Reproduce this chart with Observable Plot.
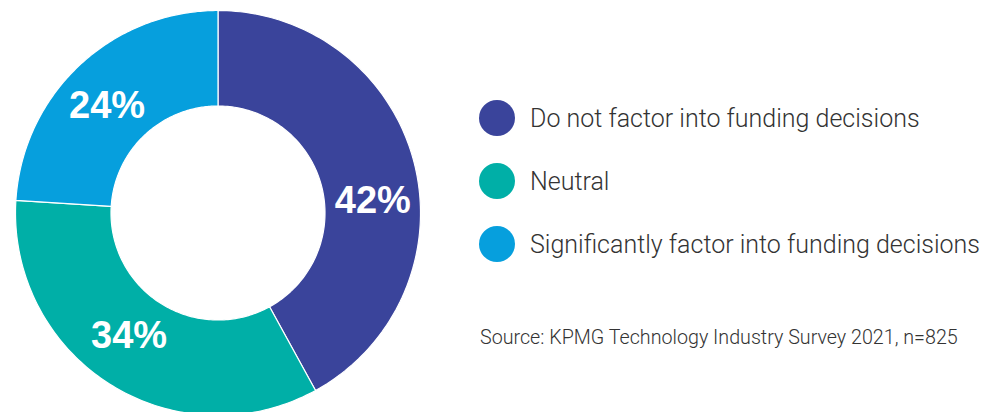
<!DOCTYPE html>
<html>
<head>
<meta charset="utf-8">
<script src="https://cdn.jsdelivr.net/npm/d3@7"></script>
<script src="https://cdn.jsdelivr.net/npm/@observablehq/plot@0.6"></script>
<style>
  html, body { margin: 0; padding: 0; background: #fff; overflow: hidden; }
  #wrap { position: relative; width: 993px; height: 412px; }
  #chart { position: absolute; left: 0; top: 0; }
  .legend { position: absolute; left: 479px; font-family: Roboto, "Liberation Sans", sans-serif; font-weight: 300; color: #333; }
  .item { position: absolute; left: 0; display: flex; align-items: center; white-space: nowrap; font-size: 25px; height: 36px; }
  .sw { width: 36px; height: 36px; border-radius: 50%; margin-right: 15px; flex: none; }
  .source { position: absolute; left: 480px; top: 326px; font-family: Roboto, "Liberation Sans", sans-serif; font-weight: 300; font-size: 19.7px; color: #333; white-space: nowrap; }
</style>
</head>
<body>
<div id="wrap">
  <div id="chart"></div>
  <div class="legend" id="legend"></div>
  <div class="source" id="source"></div>
</div>
<script>
const categories = ["Do not factor into funding decisions", "Neutral", "Significantly factor into funding decisions"];
const values = [42, 34, 24];
const labels = ["42%", "34%", "24%"];
const colors = ["#3a449b", "#00afa7", "#069fdd"];
const sourceText = "Source: KPMG Technology Industry Survey 2021, n=825";

const innerRatio = 107 / 202.5;
const pie = d3.pie().sort(null).value(d => d.value)(categories.map((c, i) => ({category: c, value: values[i], label: labels[i]})));

const ring = [];
const steps = 120;
pie.forEach(p => {
  const c = p.data.category;
  for (let k = 0; k <= steps; k++) {
    const a = p.startAngle + (p.endAngle - p.startAngle) * k / steps;
    ring.push({category: c, x: Math.sin(a), y: Math.cos(a)});
  }
  for (let k = steps; k >= 0; k--) {
    const a = p.startAngle + (p.endAngle - p.startAngle) * k / steps;
    ring.push({category: c, x: innerRatio * Math.sin(a), y: innerRatio * Math.cos(a)});
  }
  ring.push({category: c, x: Math.sin(p.startAngle), y: Math.cos(p.startAngle)});
});

const mid = (1 + innerRatio) / 2;
const labelData = pie.map(p => {
  const a = (p.startAngle + p.endAngle) / 2;
  return {category: p.data.category, label: p.data.label, x: mid * Math.sin(a), y: mid * Math.cos(a)};
});

const textStyle = {x: "x", y: "y", text: "label", fill: "white", fontSize: 38, fontWeight: "bold", fontFamily: "Liberation Sans, Arial, sans-serif"};

const chart = Plot.plot({
  width: 993,
  height: 412,
  margin: 0,
  x: {domain: [-1, 1], range: [15, 420], axis: null},
  y: {domain: [-1, 1], range: [415, 10], axis: null},
  color: {domain: categories, range: colors},
  style: {background: "transparent", overflow: "visible"},
  marks: [
    Plot.line(ring, {x: "x", y: "y", z: "category", fill: "category", stroke: "white", strokeWidth: 1.2, curve: "linear"}),
    Plot.text(labelData.filter(d => d.category === categories[0]), {...textStyle, dx: 5, dy: 26}),
    Plot.text(labelData.filter(d => d.category === categories[1]), {...textStyle, dx: -6, dy: -8}),
    Plot.text(labelData.filter(d => d.category === categories[2]), {...textStyle, dx: -5, dy: 6})
  ]
});
document.getElementById("chart").appendChild(chart);

const legend = document.getElementById("legend");
const tops = [100, 163, 226];
categories.forEach((c, i) => {
  const item = document.createElement("div");
  item.className = "item";
  item.style.top = tops[i] + "px";
  const sw = document.createElement("span");
  sw.className = "sw";
  sw.style.background = colors[i];
  const t = document.createElement("span");
  t.textContent = c;
  item.appendChild(sw);
  item.appendChild(t);
  legend.appendChild(item);
});
document.getElementById("source").textContent = sourceText;
</script>
</body>
</html>
